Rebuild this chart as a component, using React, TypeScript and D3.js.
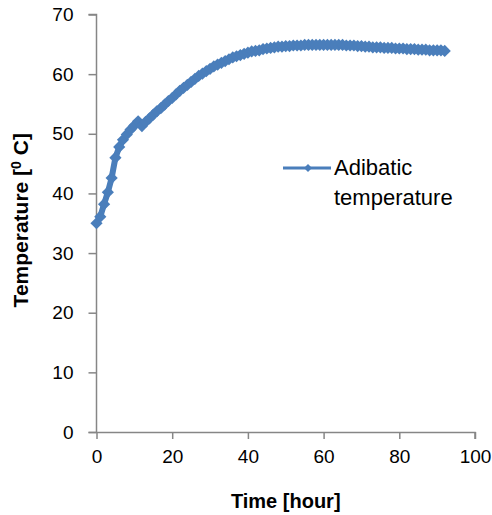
import { axisBottom, axisLeft, line, scaleLinear, select, symbol, symbolDiamond2 } from "d3";
import { useEffect, useRef } from "react";

const hours = [
  0, 1, 2, 3, 4, 5, 6, 7, 8, 9, 10, 11, 12, 13, 14, 15, 16, 17, 18, 19, 20,
  21, 22, 23, 24, 25, 26, 27, 28, 29, 30, 31, 32, 33, 34, 35, 36, 37, 38, 39,
  40, 41, 42, 43, 44, 45, 46, 47, 48, 49, 50, 51, 52, 53, 54, 55, 56, 57, 58,
  59, 60, 61, 62, 63, 64, 65, 66, 67, 68, 69, 70, 71, 72, 73, 74, 75, 76, 77,
  78, 79, 80, 81, 82, 83, 84, 85, 86, 87, 88, 89, 90, 91, 92,
];

const adiabaticTemp = [
  35.0, 36.1, 38.2, 40.2, 42.6, 46.0, 47.8, 49.0, 49.9, 50.7, 51.4, 52.1,
  51.3, 52.0, 52.6, 53.2, 53.8, 54.3, 54.9, 55.5, 56.0, 56.6, 57.2, 57.7,
  58.2, 58.7, 59.2, 59.7, 60.1, 60.5, 60.9, 61.3, 61.6, 61.9, 62.2, 62.5,
  62.8, 63.0, 63.2, 63.4, 63.6, 63.8, 63.9, 64.0, 64.2, 64.3, 64.4, 64.5,
  64.6, 64.6, 64.7, 64.7, 64.8, 64.8, 64.8, 64.9, 64.9, 64.9, 64.9, 64.9,
  64.9, 64.9, 64.9, 64.9, 64.9, 64.9, 64.8, 64.8, 64.8, 64.7, 64.7, 64.6,
  64.6, 64.5, 64.5, 64.5, 64.4, 64.4, 64.4, 64.3, 64.3, 64.3, 64.2, 64.2,
  64.2, 64.1, 64.1, 64.1, 64.0, 64.0, 64.0, 64.0, 63.9,
];

const xTicks = [0, 20, 40, 60, 80, 100];
const yTicks = [0, 10, 20, 30, 40, 50, 60, 70];
const seriesName = ["Adibatic", "temperature"];

const WIDTH = 492;
const HEIGHT = 515;
const BLUE = "#4a7ebb";
const AXIS = "#868686";
const FONT = "'Liberation Sans', Arial, sans-serif";

function App() {
  const svgRef = useRef();

  useEffect(() => {
    const svg = select(svgRef.current);
    svg.selectAll("*").remove();

    const x = scaleLinear().domain([0, 100]).range([96.5, 475]);
    const y = scaleLinear().domain([0, 70]).range([432, 14.5]);

    const points = hours.map((h, i) => ({ h, t: adiabaticTemp[i] }));

    // axes
    const gx = svg
      .append("g")
      .attr("transform", `translate(0,${y(0)})`)
      .call(axisBottom(x).tickValues(xTicks).tickSize(7).tickPadding(11));
    const gy = svg
      .append("g")
      .attr("transform", `translate(${x(0)},0)`)
      .call(axisLeft(y).tickValues(yTicks).tickSize(8).tickPadding(15));

    [gx, gy].forEach((g) => {
      g.select(".domain").attr("stroke", AXIS).attr("stroke-width", 1.5);
      g.selectAll(".tick line").attr("stroke", AXIS).attr("stroke-width", 1.5);
      g.selectAll(".tick text")
        .attr("fill", "#000")
        .style("font-family", FONT)
        .style("font-size", "19px");
    });
    gx.select(".domain").attr("d", `M${x(0) - 8},0.5H${x(100)}V7`);
    gy.select(".domain").attr("d", `M-8,${y(70)}H0V${y(0)}`);

    // series: thick line plus dense diamond markers
    const diamond = symbol().type(symbolDiamond2).size(95);
    svg
      .append("path")
      .datum(points)
      .attr("fill", "none")
      .attr("stroke", BLUE)
      .attr("stroke-width", 6)
      .attr("stroke-linejoin", "round")
      .attr(
        "d",
        line()
          .x((d) => x(d.h))
          .y((d) => y(d.t))
      );
    svg
      .append("g")
      .selectAll("path")
      .data(points)
      .join("path")
      .attr("transform", (d) => `translate(${x(d.h)},${y(d.t)})`)
      .attr("d", diamond)
      .attr("fill", BLUE);

    // legend
    const legend = svg.append("g");
    legend
      .append("line")
      .attr("x1", 283)
      .attr("x2", 331)
      .attr("y1", 168)
      .attr("y2", 168)
      .attr("stroke", BLUE)
      .attr("stroke-width", 3);
    legend
      .append("path")
      .attr("transform", "translate(308,168)")
      .attr("d", symbol().type(symbolDiamond2).size(40))
      .attr("fill", BLUE);
    legend
      .selectAll("text")
      .data(seriesName)
      .join("text")
      .attr("x", 334)
      .attr("y", (_, i) => 175 + i * 30)
      .style("font-family", FONT)
      .style("font-size", "22px")
      .text((d) => d);

    // axis titles
    svg
      .append("text")
      .attr("x", (x(0) + x(100)) / 2)
      .attr("y", 508)
      .attr("text-anchor", "middle")
      .style("font-family", FONT)
      .style("font-size", "20px")
      .style("font-weight", "bold")
      .text("Time [hour]");

    const yTitle = svg
      .append("text")
      .attr("transform", `translate(28,${y(35) - 3}) rotate(-90)`)
      .attr("text-anchor", "middle")
      .style("font-family", FONT)
      .style("font-size", "21px")
      .style("font-weight", "bold");
    yTitle.append("tspan").text("Temperature [");
    yTitle
      .append("tspan")
      .attr("dy", -7)
      .style("font-size", "14px")
      .text("0");
    yTitle.append("tspan").attr("dy", 7).text(" C]");
  }, []);

  return (
    <svg
      ref={svgRef}
      width={WIDTH}
      height={HEIGHT}
      style={{ position: "absolute", left: 0, top: 0, background: "#fff" }}
    />
  );
}

export default App;
